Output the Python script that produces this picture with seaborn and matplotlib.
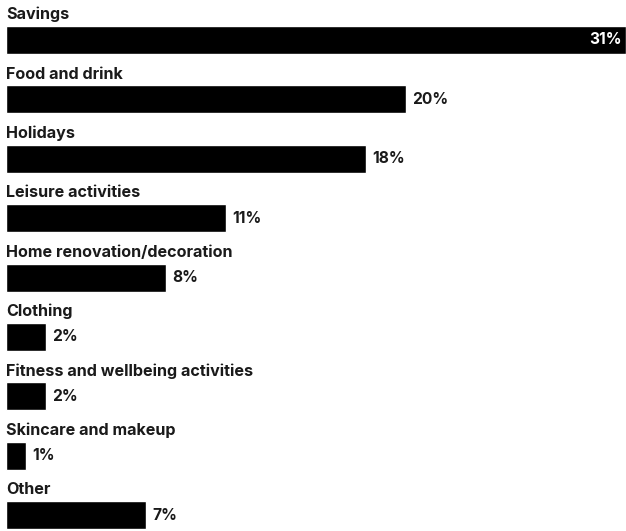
import matplotlib
matplotlib.use("Agg")
import matplotlib.pyplot as plt
import seaborn as sns
import pandas as pd

categories = ["Savings", "Food and drink", "Holidays", "Leisure activities",
              "Home renovation/decoration", "Clothing",
              "Fitness and wellbeing activities", "Skincare and makeup", "Other"]
values = [31, 20, 18, 11, 8, 2, 2, 1, 7]
value_labels = ["31%", "20%", "18%", "11%", "8%", "2%", "2%", "1%", "7%"]

sns.set_style("white")
plt.rcParams['font.family'] = ['Inter', 'DejaVu Sans']

df = pd.DataFrame({"category": categories, "value": values})

fig = plt.figure(figsize=(6.26, 5.31), dpi=100)
ax = fig.add_axes([6/626, 0, 620/626, 1])
sns.barplot(data=df, x="value", y="category", orient="h", color="black",
            width=0.47, saturation=1, ax=ax)
ax.set_xlim(0, 31)
ax.set_ylim(8.266, -0.673)
ax.set_axis_off()

for i, (cat, v, lab) in enumerate(zip(categories, values, value_labels)):
    ax.text(0, i - 0.30, cat, ha="left", va="bottom", fontsize=11.6,
            fontweight="bold", color="#1a1a1a")
    if i == 0:
        ax.text(v - 0.2, i, lab, ha="right", va="center", fontsize=11.2,
                fontweight="bold", color="white")
    else:
        ax.text(v + 0.3, i, lab, ha="left", va="center", fontsize=11.2,
                fontweight="bold", color="#1a1a1a")

fig.savefig("out.png", dpi=100)
